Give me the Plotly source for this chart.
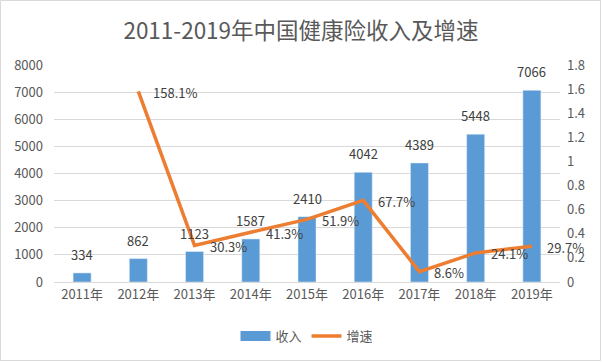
import plotly.graph_objects as go

years = ["2011年", "2012年", "2013年", "2014年", "2015年", "2016年", "2017年", "2018年", "2019年"]
income = [334, 862, 1123, 1587, 2410, 4042, 4389, 5448, 7066]
growth_years = ["2012年", "2013年", "2014年", "2015年", "2016年", "2017年", "2018年", "2019年"]
growth = [1.581, 0.303, 0.413, 0.519, 0.677, 0.086, 0.241, 0.297]
growth_labels = ["158.1%", "30.3%", "41.3%", "51.9%", "67.7%", "8.6%", "24.1%", "29.7%"]

FONT = "Noto Sans CJK SC, Noto Sans, sans-serif"
TXT = "#595959"
LBL = "#404040"
BLUE = "#5b9bd5"
ORANGE = "#ed7d31"

fig = go.Figure()
fig.add_trace(go.Bar(x=years, y=income, name="收入", marker_color=BLUE, showlegend=False,
                     width=0.32, xaxis="x", yaxis="y"))
# legend swatch for bars (wide rectangle like the reference)
fig.add_trace(go.Scatter(x=[years[0]], y=[-1000], name="收入", mode="lines",
                         line=dict(color=BLUE, width=10), xaxis="x", yaxis="y"))
fig.add_trace(go.Scatter(x=growth_years, y=growth, name="增速", mode="lines",
                         line=dict(color=ORANGE, width=3.5), xaxis="x", yaxis="y2"))

annotations = []
for x, v in zip(years, income):
    annotations.append(dict(x=x, y=v, xref="x", yref="y", text=str(v), showarrow=False,
                            xanchor="center", yanchor="bottom", yshift=7,
                            font=dict(size=13, color=LBL, family=FONT)))
for x, g, t in zip(growth_years, growth, growth_labels):
    annotations.append(dict(x=x, y=g, xref="x", yref="y2", text=t, showarrow=False,
                            xanchor="left", yanchor="middle", xshift=13, yshift=-1,
                            font=dict(size=13, color=LBL, family=FONT)))

W, H = 602, 362
ml, mr, mt, mb = 54, 42, 65, 80
pw, ph = W - ml - mr, H - mt - mb

fig.update_layout(
    width=W, height=H,
    margin=dict(l=ml, r=mr, t=mt, b=mb, autoexpand=False),
    paper_bgcolor="white", plot_bgcolor="white",
    font=dict(family=FONT, color=TXT, size=13),
    title=dict(text="2011-2019年中国健康险收入及增速", x=0.5, xanchor="center",
               y=1 - 31 / H, yanchor="middle", font=dict(size=22.5, color=TXT, family=FONT)),
    showlegend=True,
    legend=dict(orientation="h", x=0.5, xanchor="center", y=-54 / ph, yanchor="middle",
                font=dict(size=13, color=TXT, family=FONT)),
    annotations=annotations,
    xaxis=dict(domain=[0, 1], range=[-0.5, len(years) - 0.5], autorange=False,
               showline=True, linecolor="#d9d9d9", showgrid=False,
               automargin=False, tickfont=dict(size=13, color=TXT, family=FONT), ticks=""),
    yaxis=dict(range=[0, 8000], dtick=1000, gridcolor="#d9d9d9", zeroline=False,
               automargin=False, tickfont=dict(size=13, color=TXT, family=FONT),
               ticklabelstandoff=10, anchor="x"),
    yaxis2=dict(range=[0, 1.8], dtick=0.2, showgrid=False, zeroline=False,
                automargin=False, tickfont=dict(size=13, color=TXT, family=FONT),
                ticklabelstandoff=6, overlaying="y", side="right", anchor="x"),
    shapes=[dict(type="rect", xref="paper", yref="paper",
                 x0=-(ml - 0.5) / pw, x1=1 + (mr - 1.5) / pw,
                 y0=-(mb - 1.5) / ph, y1=1 + (mt - 0.5) / ph,
                 line=dict(color="#d9d9d9", width=1), layer="below")],
)

fig.write_html("out.html", config={"displayModeBar": False},
               post_script="document.body.style.margin='0';")
